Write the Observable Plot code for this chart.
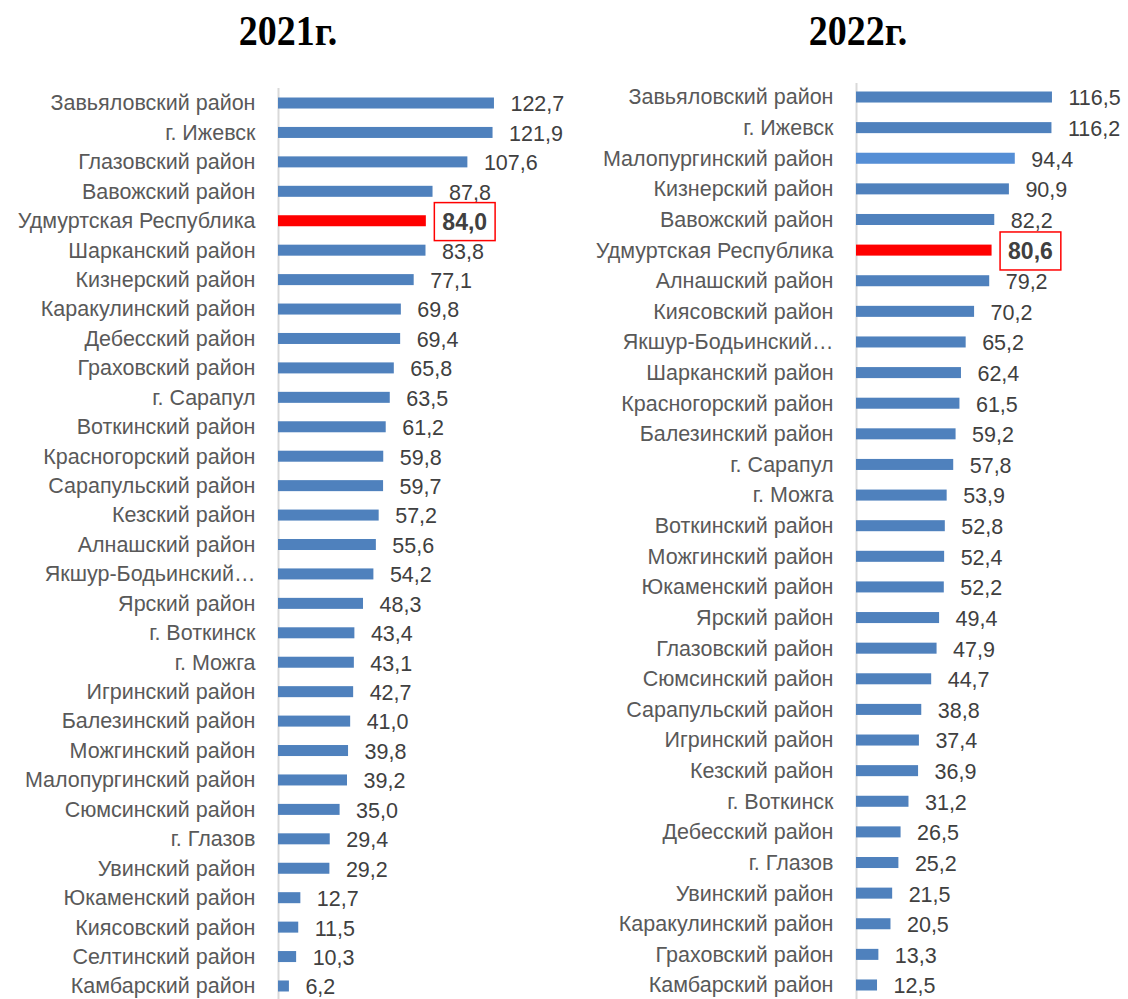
<!DOCTYPE html>
<html><head><meta charset="utf-8">
<script src="https://cdn.jsdelivr.net/npm/d3@7"></script>
<script src="https://cdn.jsdelivr.net/npm/@observablehq/plot@0.6"></script>
<style>
body{margin:0;background:#fff}
#wrap{position:relative;width:1128px;height:999px;overflow:hidden;background:#fff}
.title{position:absolute;top:8px;width:240px;text-align:center;font:bold 38px "Liberation Serif","Times New Roman",serif;color:#000;line-height:40px;transform:scaleY(1.12);transform-origin:top center}
.panel{position:absolute;top:60px}
</style></head><body>
<div id="wrap">
  <div class="title" style="left:168px">2021г.</div>
  <div class="title" style="left:738px">2022г.</div>
  <div class="panel" id="p1" style="left:0px"></div>
  <div class="panel" id="p2" style="left:570px"></div>
</div>
<script>
const highlight = "Удмуртская Республика";
const lightBar = "Малопургинский район";

const names2021 = ["Завьяловский район","г. Ижевск","Глазовский район","Вавожский район","Удмуртская Республика","Шарканский район","Кизнерский район","Каракулинский район","Дебесский район","Граховский район","г. Сарапул","Воткинский район","Красногорский район","Сарапульский район","Кезский район","Алнашский район","Якшур-Бодьинский…","Ярский район","г. Воткинск","г. Можга","Игринский район","Балезинский район","Можгинский район","Малопургинский район","Сюмсинский район","г. Глазов","Увинский район","Юкаменский район","Киясовский район","Селтинский район","Камбарский район"];
const values2021 = [122.7,121.9,107.6,87.8,84.0,83.8,77.1,69.8,69.4,65.8,63.5,61.2,59.8,59.7,57.2,55.6,54.2,48.3,43.4,43.1,42.7,41.0,39.8,39.2,35.0,29.4,29.2,12.7,11.5,10.3,6.2];

const names2022 = ["Завьяловский район","г. Ижевск","Малопургинский район","Кизнерский район","Вавожский район","Удмуртская Республика","Алнашский район","Киясовский район","Якшур-Бодьинский…","Шарканский район","Красногорский район","Балезинский район","г. Сарапул","г. Можга","Воткинский район","Можгинский район","Юкаменский район","Ярский район","Глазовский район","Сюмсинский район","Сарапульский район","Игринский район","Кезский район","г. Воткинск","Дебесский район","г. Глазов","Увинский район","Каракулинский район","Граховский район","Камбарский район"];
const values2022 = [116.5,116.2,94.4,90.9,82.2,80.6,79.2,70.2,65.2,62.4,61.5,59.2,57.8,53.9,52.8,52.4,52.2,49.4,47.9,44.7,38.8,37.4,36.9,31.2,26.5,25.2,21.5,20.5,13.3,12.5];

const FONT = '"Liberation Sans", Arial, sans-serif';
const FS = 21.5;
const fmt = v => v.toFixed(1).replace(".", ",");

function panel(el, names, vals, o, lightName) {
  const data = names.map((name, i) => ({name, value: vals[i]}));
  const colorOf = d => d.name === highlight ? "#ff0000" : (d.name === lightName ? "#558ed5" : "#4f81bd");
  const chart = Plot.plot({
    width: o.width, height: 939,
    marginTop: o.top, marginBottom: 0, marginLeft: o.axisX, marginRight: 6,
    x: {domain: [0, 150], range: [o.axisX, o.axisX + 150 * o.k], axis: null},
    y: {domain: names, range: o.yRange, paddingInner: o.pi, paddingOuter: o.pi / 2, round: false, axis: null},
    color: {type: "identity"},
    style: {fontFamily: FONT, fontSize: FS + "px", background: "white", overflow: "visible"},
    marks: [
      Plot.ruleX([0], {stroke: "#d9d9d9", strokeWidth: 2}),
      Plot.barX(data, {x: "value", y: "name", fill: colorOf}),
      Plot.axisY({tickSize: 0, tickPadding: 23, fontSize: FS, fill: "#595959", textAnchor: "end", label: null}),
      Plot.text(data.filter(d => d.name !== highlight), {x: "value", y: "name", text: d => fmt(d.value), dx: 16, dy: 1, textAnchor: "start", fill: "#404040", fontSize: FS}),
      Plot.text(data.filter(d => d.name === highlight), {x: "value", y: "name", text: d => fmt(d.value), dx: 16, dy: 1, textAnchor: "start", fill: "#404040", fontSize: 23, fontWeight: "bold"})
    ]
  });
  document.getElementById(el).appendChild(chart);
  const t = chart.querySelector('g[font-weight="bold"] text');
  if (t) {
    const b = t.getBBox();
    const m = t.getCTM();
    const sm = chart.getCTM();
    const p = chart.createSVGPoint();
    p.x = b.x; p.y = b.y;
    const inv = sm ? sm.inverse().multiply(m) : m;
    const q = p.matrixTransform(inv);
    d3.select(chart).append("rect")
      .attr("x", q.x - 8).attr("y", q.y + b.height / 2 - 19)
      .attr("width", b.width + 16).attr("height", 38)
      .attr("fill", "none").attr("stroke", "#ff0000").attr("stroke-width", 1.5);
  }
}

panel("p1", names2021, values2021, {width: 560, axisX: 278, k: 1.76, top: 28, yRange: [28.3, 940.7], pi: 0.626}, null);
panel("p2", names2022, values2022, {width: 558, axisX: 286, k: 1.682, top: 23, yRange: [21.7, 940.3], pi: 0.64}, lightBar);
</script>
</body></html>
